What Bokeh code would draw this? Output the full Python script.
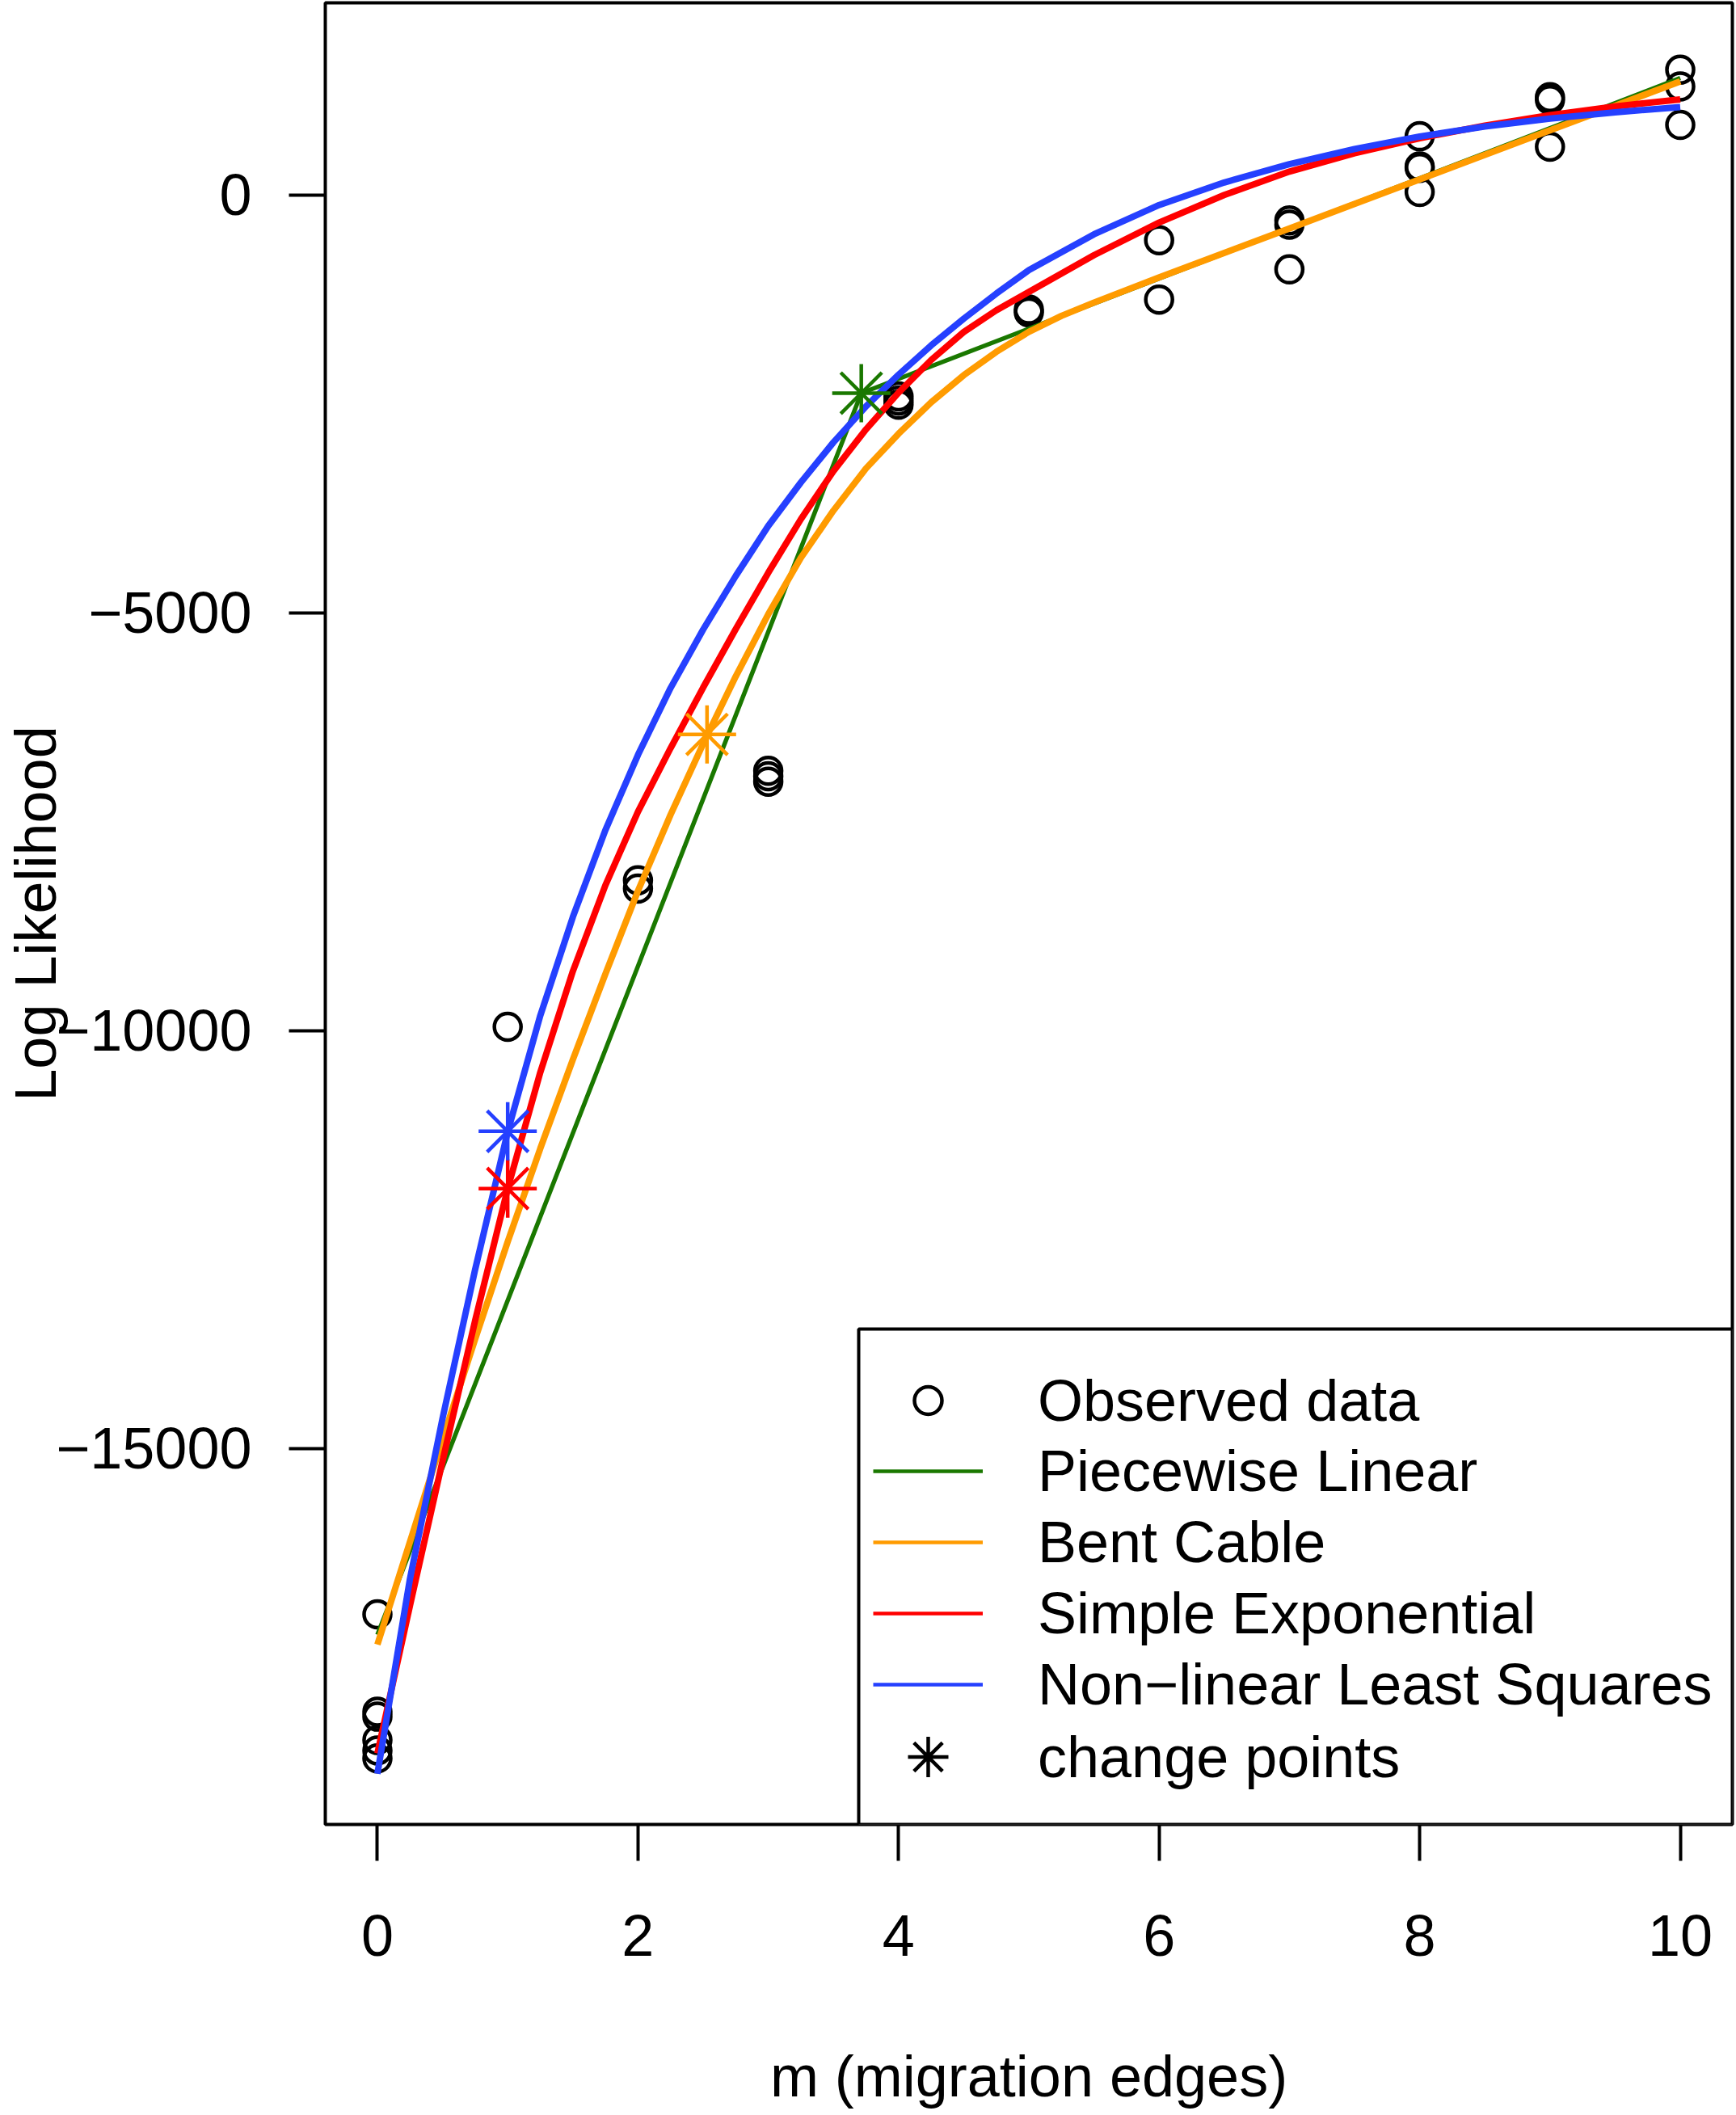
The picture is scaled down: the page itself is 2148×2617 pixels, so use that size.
from bokeh.plotting import figure
from bokeh.models import Range1d, FixedTicker, Legend, LegendItem, BoxAnnotation
from bokeh.embed import file_html
from bokeh.resources import INLINE

# ---------------- data ----------------
obs_x = [0, 0, 0, 0, 0, 0, 1, 2, 2, 3, 3, 3, 4, 4, 4, 5, 5, 6, 6, 7, 7, 7,
         8, 8, 8, 8, 9, 9, 9, 10, 10, 10]
obs_y = [-16985, -18150, -18210, -18490, -18615, -18710, -9954, -8200, -8300,
         -6890, -6955, -7020, -2410, -2460, -2510, -1371, -1405, -540, -1251,
         -303, -354, -890, 703, 341, 324, 36, 1171, 1137, 578, 1500, 1300, 839]

pw_x = [0, 3.714, 10]
pw_y = [-17230, -2371, 1400]

bent_x = [0, 0.25, 0.5, 0.75, 1.0, 1.25, 1.5, 1.75, 2.0, 2.25, 2.5, 2.75,
          3.0, 3.25, 3.5, 3.75, 4.0, 4.25, 4.5, 4.75, 5.0, 5.25, 5.5, 6, 7,
          8, 9, 10]
bent_y = [-17347, -16117, -14892, -13692, -12527, -11412, -10347, -9322,
          -8327, -7417, -6567, -5762, -5017, -4342, -3777, -3272, -2857,
          -2482, -2157, -1877, -1637, -1447, -1287, -987, -400, 187, 774, 1360]

exp_x = [0, 0.25, 0.5, 0.75, 1.0, 1.25, 1.5, 1.75, 2.0, 2.25, 2.5, 2.75,
         3.0, 3.25, 3.5, 3.75, 4.0, 4.25, 4.5, 4.75, 5.0, 5.5, 6.0, 6.5, 7.0,
         7.5, 8.0, 8.5, 9.0, 9.5, 10]
exp_y = [-18650, -16880, -15150, -13470, -11890, -10500, -9290, -8260, -7380,
         -6620, -5895, -5195, -4520, -3880, -3305, -2805, -2365, -1975, -1640,
         -1380, -1160, -720, -330, 0, 280, 500, 680, 830, 955, 1060, 1145]

nls_x = [0, 0.25, 0.5, 0.75, 1.0, 1.25, 1.5, 1.75, 2.0, 2.25, 2.5, 2.75,
         3.0, 3.25, 3.5, 3.75, 4.0, 4.25, 4.5, 4.75, 5.0, 5.5, 6.0, 6.5, 7.0,
         7.5, 8.0, 8.5, 9.0, 9.5, 10]
nls_y = [-18893, -16560, -14640, -12860, -11210, -9820, -8640, -7600, -6700,
         -5900, -5200, -4560, -3960, -3440, -2960, -2530, -2150, -1800, -1480,
         -1180, -900, -470, -120, 150, 370, 550, 700, 820, 915, 990, 1053]

cp_x = [3.714, 2.53, 1.0, 1.0]
cp_y = [-2371, -6455, -11890, -11205]

x_ticks = [0, 2, 4, 6, 8, 10]
y_ticks = [-15000, -10000, -5000, 0]
y_tick_labels = ["\u221215000", "\u221210000", "\u22125000", "0"]

legend_labels = ["Observed data", "Piecewise Linear", "Bent Cable",
                 "Simple Exponential", "Non\u2212linear Least Squares",
                 "change points"]

# ---------------- styles ----------------
GREEN = "#1a7800"
ORANGE = "#ff9b00"
RED = "#ff0000"
BLUE = "#2540ff"
FONT = "Liberation Sans"
FS = "72px"
cp_colors = [GREEN, ORANGE, RED, BLUE]
NAN = float("nan")

W, H = 2148, 2617
ML, MR, MT, MB = 402, 5, 3, 360
X0, X1 = -0.4, 10.4
Y0, Y1 = -19500, 2300

p = figure(width=W, height=H, output_backend="svg", toolbar_location=None,
           x_range=Range1d(X0, X1), y_range=Range1d(Y0, Y1),
           min_border_left=ML, min_border_right=MR,
           min_border_top=MT, min_border_bottom=MB)
p.grid.visible = False
p.outline_line_color = "black"
p.outline_line_width = 4
p.background_fill_color = "white"
p.border_fill_color = "white"

for ax in (p.xaxis[0], p.yaxis[0]):
    ax.axis_line_color = None
    ax.major_tick_line_color = "black"
    ax.major_tick_line_width = 4
    ax.major_tick_out = 45
    ax.major_tick_in = 0
    ax.minor_tick_line_color = None
    ax.major_label_text_font = FONT
    ax.major_label_text_font_size = FS
    ax.major_label_text_color = "black"
    ax.axis_label_text_font = FONT
    ax.axis_label_text_font_size = FS
    ax.axis_label_text_font_style = "normal"
    ax.axis_label_text_color = "black"

p.xaxis.ticker = FixedTicker(ticks=x_ticks)
p.yaxis.ticker = FixedTicker(ticks=y_ticks)
p.yaxis.major_label_overrides = {float(t): s for t, s in zip(y_ticks, y_tick_labels)}
p.xaxis.major_label_standoff = 67
p.yaxis.major_label_standoff = 46

p.xaxis.axis_label = "m (migration edges)"
p.xaxis.axis_label_standoff = 106
p.yaxis.axis_label = "Log Likelihood"
p.yaxis.axis_label_standoff = -18

# observed data
p.scatter(obs_x, obs_y, marker="circle", size=33, fill_color=None,
          line_color="black", line_width=4.5)

# model curves
p.line(pw_x, pw_y, line_color=GREEN, line_width=5.5)
p.line(bent_x, bent_y, line_color=ORANGE, line_width=8)
p.line(exp_x, exp_y, line_color=RED, line_width=8)
p.line(nls_x, nls_y, line_color=BLUE, line_width=8)

# change points
p.scatter(cp_x, cp_y, marker="asterisk", size=72, line_color=cp_colors,
          line_width=4.5)

# ---------------- legend ----------------
frame_w = W - ML - MR
frame_h = H - MT - MB
box_left_px = 660      # from frame left
box_top_px = 613       # from frame bottom
box = BoxAnnotation(left=X0 + box_left_px / frame_w * (X1 - X0),
                    top=Y0 + box_top_px / frame_h * (Y1 - Y0),
                    fill_color="white", fill_alpha=1.0,
                    line_color="black", line_width=4, line_alpha=1.0)
p.add_layout(box)

# legend-only keys (no visible data)
leg_circle = p.scatter(x=[NAN], y=[NAN], marker="circle", fill_color=None,
                       line_color="black", line_width=4.5)
leg_lines = [p.line(x=[NAN, NAN], y=[NAN, NAN], line_color=c, line_width=4.5)
             for c in (GREEN, ORANGE, RED, BLUE)]
leg_star = p.scatter(x=[NAN], y=[NAN], marker="asterisk", line_color="black",
                     line_width=4.5)

GX = 678
common = dict(padding=0, spacing=0, margin=0, border_line_color=None,
              background_fill_alpha=0, glyph_width=136, label_standoff=68,
              label_text_font=FONT, label_text_font_size=FS,
              label_text_color="black")

legA = Legend(items=[LegendItem(label=legend_labels[0], renderers=[leg_circle])],
              location=(GX, 482), glyph_height=85, label_height=85, **common)
legB = Legend(items=[LegendItem(label=legend_labels[i + 1], renderers=[r])
                     for i, r in enumerate(leg_lines)],
              location=(GX, 129), glyph_height=88, label_height=88, **common)
legC = Legend(items=[LegendItem(label=legend_labels[5], renderers=[leg_star])],
              location=(GX, 21), glyph_height=125, label_height=125, **common)
for lg in (legA, legB, legC):
    p.add_layout(lg, "center")

open("out.html", "w").write(file_html(p, INLINE))
